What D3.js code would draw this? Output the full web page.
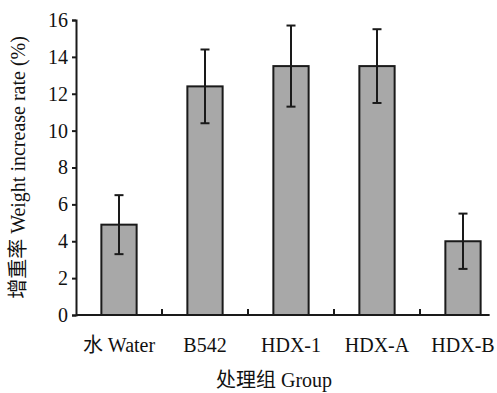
<!DOCTYPE html>
<html>
<head>
<meta charset="utf-8">
<script src="https://cdn.jsdelivr.net/npm/d3@7"></script>
</head>
<body style="margin:0;background:#fff">
<script>
const groups = ['水 Water', 'B542', 'HDX-1', 'HDX-A', 'HDX-B']
const rate = [4.9, 12.4, 13.5, 13.5, 4.0]
const err = [1.6, 2.0, 2.2, 2.0, 1.5]
const yTicks = [0, 2, 4, 6, 8, 10, 12, 14, 16]

const W = 497, H = 393
const margin = {top: 20, left: 76, bottom: 78}
const FONT = '"Liberation Serif", "Noto Sans CJK SC"'

const svg = d3.select('body').append('svg')
  .attr('width', W)
  .attr('height', H)

const x = d3.scaleBand()
  .domain(groups)
  .range([margin.left, margin.left + 86 * groups.length])
  .paddingInner(0.59)
  .paddingOuter(0.295)

const y = d3.scaleLinear()
  .domain([0, 16])
  .range([H - margin.bottom, margin.top])

// bars
svg.selectAll('rect.bar')
  .data(groups)
  .enter()
  .append('rect')
  .attr('class', 'bar')
  .attr('x', d => x(d))
  .attr('y', (d, i) => y(rate[i]))
  .attr('width', x.bandwidth())
  .attr('height', (d, i) => y(0) - y(rate[i]))
  .attr('fill', '#a8a8a8')
  .attr('stroke', '#1a1a1a')
  .attr('stroke-width', 2)

// error bars
const eb = svg.selectAll('g.err')
  .data(groups)
  .enter()
  .append('g')
  .attr('class', 'err')
  .attr('stroke', '#1a1a1a')
  .attr('stroke-width', 2)
const cx = d => x(d) + x.bandwidth() / 2
eb.append('line')
  .attr('x1', cx).attr('x2', cx)
  .attr('y1', (d, i) => y(rate[i] + err[i]))
  .attr('y2', (d, i) => y(rate[i] - err[i]))
eb.append('line')
  .attr('x1', d => cx(d) - 4.5).attr('x2', d => cx(d) + 4.5)
  .attr('y1', (d, i) => y(rate[i] + err[i]))
  .attr('y2', (d, i) => y(rate[i] + err[i]))
eb.append('line')
  .attr('x1', d => cx(d) - 4.5).attr('x2', d => cx(d) + 4.5)
  .attr('y1', (d, i) => y(rate[i] - err[i]))
  .attr('y2', (d, i) => y(rate[i] - err[i]))

// y axis
const yAxis = svg.append('g')
  .attr('transform', `translate(${margin.left},0)`)
  .call(d3.axisLeft(y).tickValues(yTicks).tickSize(4).tickPadding(4))
yAxis.select('.domain').attr('stroke', '#1a1a1a').attr('stroke-width', 2)
yAxis.selectAll('.tick line').attr('stroke', '#1a1a1a').attr('stroke-width', 2)
yAxis.selectAll('.tick text')
  .style('font-family', FONT)
  .style('font-size', '20px')
  .attr('fill', '#111')

// x axis, cut short on the right like the original
const xEnd = x(groups[groups.length - 1]) + x.bandwidth() + 9
svg.append('line')
  .attr('x1', margin.left).attr('x2', xEnd)
  .attr('y1', y(0)).attr('y2', y(0))
  .attr('stroke', '#1a1a1a')
  .attr('stroke-width', 2)

// small inner ticks between groups
const bounds = groups.slice(1).map(d => x(d) - x.step() * x.paddingInner() / 2)
svg.selectAll('line.sep')
  .data(bounds)
  .enter()
  .append('line')
  .attr('class', 'sep')
  .attr('x1', d => d).attr('x2', d => d)
  .attr('y1', y(0)).attr('y2', y(0) - 6)
  .attr('stroke', '#1a1a1a')
  .attr('stroke-width', 2)

svg.selectAll('text.cat')
  .data(groups)
  .enter()
  .append('text')
  .attr('class', 'cat')
  .attr('x', cx)
  .attr('y', y(0) + 37)
  .attr('text-anchor', 'middle')
  .attr('fill', '#111')
  .style('font-family', FONT)
  .style('font-size', '20px')
  .text(d => d)

svg.append('text')
  .attr('x', 274)
  .attr('y', H - 6)
  .attr('text-anchor', 'middle')
  .attr('fill', '#111')
  .style('font-family', FONT)
  .style('font-size', '20px')
  .text('处理组 Group')

svg.append('text')
  .attr('transform', `translate(25,${(y(0) + y(16)) / 2}) rotate(-90)`)
  .attr('text-anchor', 'middle')
  .attr('fill', '#111')
  .style('font-family', FONT)
  .style('font-size', '20px')
  .text('增重率 Weight increase rate (%)')
</script>
</body>
</html>
